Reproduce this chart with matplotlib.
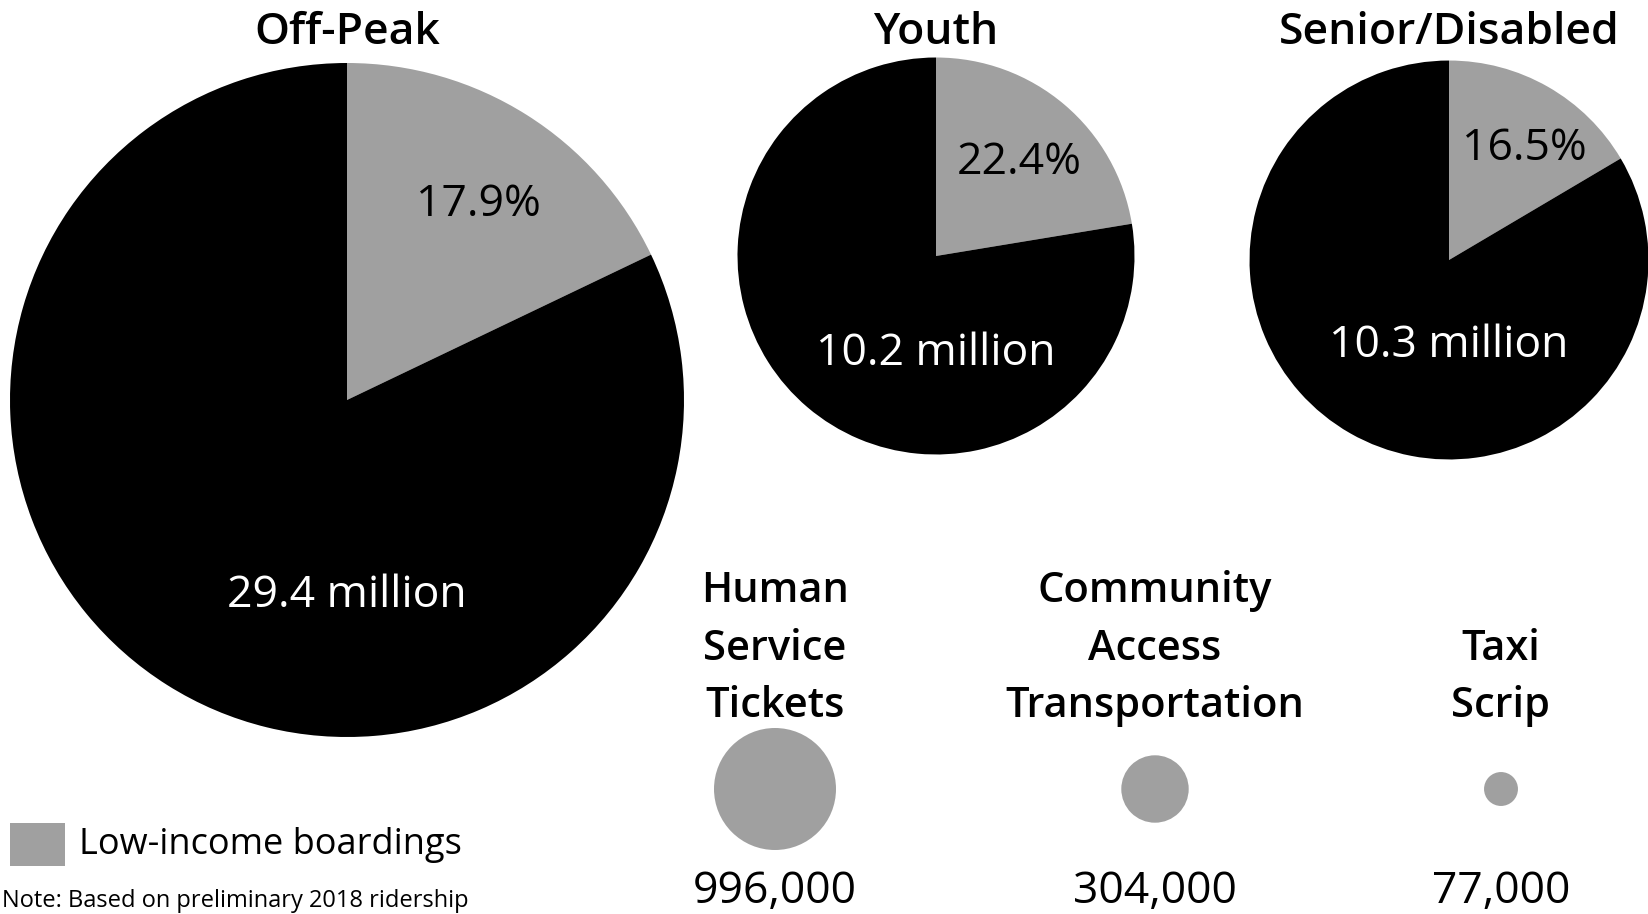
import numpy as np
import matplotlib
matplotlib.use("Agg")
import matplotlib.pyplot as plt
from matplotlib.patches import Circle, Rectangle

plt.rcParams['font.family'] = ['Open Sans', 'DejaVu Sans']

# fare categories (pies): total boardings in millions, low-income share in %
pie_titles = ["Off-Peak", "Youth", "Senior/Disabled"]
pie_totals = [29.4, 10.2, 10.3]
pie_low_pct = [17.9, 22.4, 16.5]

# low-income programs (circles)
prog_names = ["Human\nService\nTickets", "Community\nAccess\nTransportation", "Taxi\nScrip"]
prog_boardings = [996000, 304000, 77000]

legend_label = "Low-income boardings"
note_text = "Note: Based on preliminary 2018 ridership"

W, H = 1649, 914
black = "#000000"
gray = "#a0a0a0"

fig = plt.figure(figsize=(W / 100, H / 100), dpi=100)
ax = fig.add_axes([0, 0, 1, 1])

# layout (pixel coords, y measured from top)
pie_centers = [(347, 400), (936, 256), (1449, 260)]
r_big = 337
title_y = 32
pct_pos = [(0.39, 0.58), (0.42, 0.47), (0.38, 0.56)]  # in radius units
mil_off = [0.58, 0.49, 0.43]

for i in range(3):
    cx, cy = pie_centers[i]
    r = r_big * np.sqrt(pie_totals[i] / pie_totals[0])
    low = pie_low_pct[i]
    ax.pie([low, 100 - low], colors=[gray, black], startangle=90,
           counterclock=False, center=(cx, H - cy), radius=r,
           wedgeprops=dict(linewidth=0))
    ax.text(cx + pct_pos[i][0] * r, H - cy + pct_pos[i][1] * r,
            f"{low}%", ha='center', va='center', fontsize=32, color='black')
    ax.text(cx, H - cy - mil_off[i] * r, f"{pie_totals[i]} million",
            ha='center', va='center', fontsize=32, color='white')
    ax.text(cx, H - title_y, pie_titles[i], ha='center', va='center',
            fontsize=32, fontweight='semibold')

# program circles, area proportional to boardings
prog_x = [775, 1155, 1501]
circ_y = 789
r_circ = 61
for i in range(3):
    r = r_circ * np.sqrt(prog_boardings[i] / prog_boardings[0])
    ax.add_patch(Circle((prog_x[i], H - circ_y), r, color=gray, lw=0))
    ax.text(prog_x[i], H - 727, prog_names[i], ha='center', va='bottom',
            fontsize=30, fontweight='semibold', linespacing=1.48)
    ax.text(prog_x[i], H - 892, f"{prog_boardings[i]:,}", ha='center',
            va='center', fontsize=32)

# legend
ax.add_patch(Rectangle((10, H - 866), 55, 43, color=gray, lw=0))
ax.text(79, H - 845, legend_label, ha='left', va='center', fontsize=26)
ax.text(2, 1, note_text, ha='left', va='bottom', fontsize=17)

ax.set_xlim(0, W)
ax.set_ylim(0, H)
ax.set_aspect('auto')
ax.axis('off')

fig.savefig("out.png", dpi=100)
